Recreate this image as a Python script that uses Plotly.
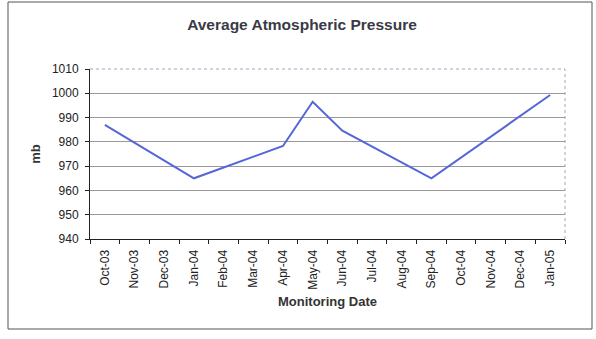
import plotly.graph_objects as go

months = ["Oct-03", "Nov-03", "Dec-03", "Jan-04", "Feb-04", "Mar-04", "Apr-04", "May-04",
          "Jun-04", "Jul-04", "Aug-04", "Sep-04", "Oct-04", "Nov-04", "Dec-04", "Jan-05"]
pressure = [987, None, None, 965, None, None, 978.3, 996.5,
            984.6, None, None, 965, None, None, None, 999.3]
y_ticks = [940, 950, 960, 970, 980, 990, 1000, 1010]

W, H = 596, 339
L, R, T, B = 90, 31, 69, 100
pw, ph = W - L - R, H - T - B

def px_to_paper_x(x):
    return (x - L) / pw

def px_to_paper_y(y):
    return (H - B - y) / ph

fig = go.Figure()
fig.add_trace(go.Scatter(
    x=months, y=pressure, mode="lines", connectgaps=True,
    line=dict(color="#5566d8", width=2), showlegend=False, hoverinfo="skip"))

font = "Liberation Sans, Arial, sans-serif"
fig.update_layout(
    width=W, height=H,
    margin=dict(l=L, r=R, t=T, b=B),
    paper_bgcolor="white", plot_bgcolor="white",
    font=dict(family=font, size=12, color="#222"),
    title=dict(text="<b>Average Atmospheric Pressure</b>", x=302 / W, xref="container",
               y=1 - 25 / H, yref="container", yanchor="middle", xanchor="center",
               font=dict(size=15.5, color="#3a3a44", family=font)),
    xaxis=dict(type="category", tickangle=-90, ticks="outside", ticklen=4,
               tickson="boundaries", tickcolor="#222", showline=True, linecolor="#222",
               linewidth=1, showgrid=False, tickfont=dict(size=12), ticklabelstandoff=5,
               title=dict(text="<b>Monitoring Date</b>", font=dict(size=13, color="#333"),
                          standoff=8),
               range=[-0.5, 15.5]),
    yaxis=dict(range=[940, 1010], tickvals=y_ticks, ticks="outside", ticklen=4,
               tickcolor="#222", showline=True, linecolor="#222", linewidth=1,
               showgrid=True, gridcolor="#9a9a9a", gridwidth=1,
               zeroline=False, tickfont=dict(size=12), ticklabelstandoff=4,
               title=dict(text="<b>mb</b>", font=dict(size=13, color="#333"), standoff=8)),
    shapes=[
        dict(type="line", xref="paper", yref="paper", x0=0, x1=1, y0=1, y1=1,
             line=dict(color="#a0a4c0", width=1, dash="dot"), layer="below"),
        dict(type="line", xref="paper", yref="paper", x0=1, x1=1, y0=0, y1=1,
             line=dict(color="#a0a4c0", width=1, dash="dot"), layer="below"),
        dict(type="rect", xref="paper", yref="paper",
             x0=px_to_paper_x(8), x1=px_to_paper_x(592),
             y0=px_to_paper_y(329), y1=px_to_paper_y(2),
             line=dict(color="#555", width=1), layer="below"),
    ],
)

fig.write_html("out.html", config={"displayModeBar": False},
               post_script="document.body.style.margin='0';document.body.style.padding='0';")
